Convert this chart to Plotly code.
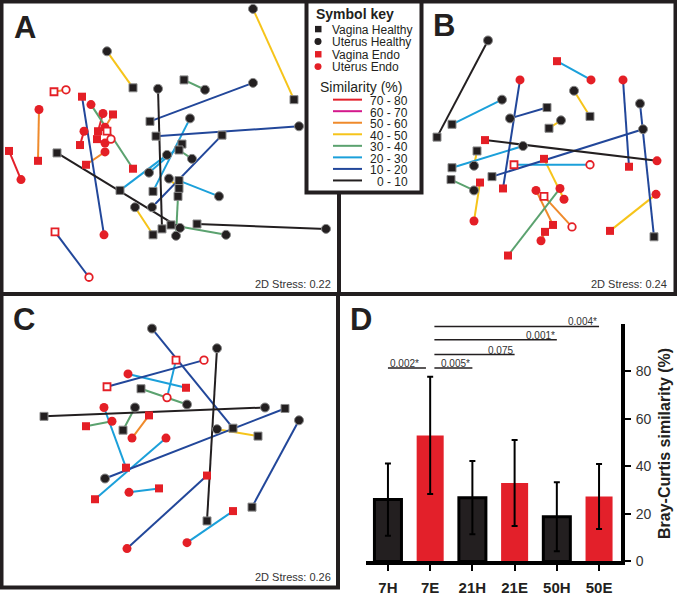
import plotly.graph_objects as go

W, H = 677, 599
FONT = "Liberation Sans, Arial, sans-serif"

# ---------------- data ----------------
SIM_BINS = [70, 60, 50, 40, 30, 20, 10, 0]
SIM_LABELS = ["70 - 80", "60 - 70", "50 - 60", "40 - 50", "30 - 40", "20 - 30", "10 - 20", "0 - 10"]
SIM_COLORS = {70: "#e3202a", 60: "#d4198c", 50: "#ef8a2b", 40: "#f6c41a",
              30: "#5ba26f", 20: "#1ba0da", 10: "#22479a", 0: "#231f20"}
SYMBOL_KEY = ["Vagina Healthy", "Uterus Healthy", "Vagina Endo", "Uterus Endo"]
SYMBOL_TYPES = ["VH", "UH", "VE", "UE"]

# (similarity bin, type 1, x1, y1, type 2, x2, y2) ; NMDS coordinates
A_PAIRS = [
    (40, "UH", 253, 9, "VH", 294, 101),
    (40, "UH", 107, 52, "VH", 133, 89),
    (30, "VH", 184, 81, "UH", 205, 91),
    (10, "UH", 253, 84, "VH", 150, 123),
    (0, "UH", 158, 90, "VH", 162, 232),
    (20, "UH", 190, 120, "VH", 153, 194),
    (10, "UH", 299, 128, "VH", 156, 138),
    (10, "VH", 222, 137, "UH", 152, 210),
    (20, "VH", 120, 193, "UH", 167, 157),
    (20, "UH", 149, 175, "VH", 182, 146),
    (30, "VH", 179, 152, "UH", 192, 161),
    (40, "UH", 169, 181, "VH", 179, 191),
    (20, "VH", 179, 183, "UH", 219, 199),
    (30, "VH", 178, 199, "UH", 176, 239),
    (30, "VH", 171, 228, "UH", 226, 238),
    (0, "VH", 57, 155, "UH", 180, 231),
    (0, "VH", 197, 227, "UH", 326, 232),
    (40, "UH", 135, 210, "VH", 153, 238),
    (10, "VE", 82, 98, "UE", 104, 238),
    (10, "VEo", 55, 235, "UEo", 89, 281),
    (50, "UE", 39, 111, "VE", 38, 163),
    (70, "VE", 9, 153, "UE", 21, 182),
    (50, "VEo", 54, 93, "UEo", 66, 91),
    (30, "UE", 91, 106, "VE", 133, 171),
    (50, "UE", 105, 154, "VE", 86, 167),
    (70, "UE", 103, 115, "VE", 98, 133),
    (50, "VE", 113, 116, "UE", 105, 129),
    (70, "UE", 84, 133, "VE", 80, 147),
    (60, "VE", 97, 141, "UE", 105, 145),
    (70, "VEo", 107, 133, "UEo", 111, 141),
]
B_PAIRS = [
    (0, "VH", 437, 139, "UH", 488, 41),
    (20, "VH", 452, 126, "UH", 502, 101),
    (10, "UH", 510, 120, "VH", 547, 109),
    (40, "VH", 549, 130, "UH", 561, 122),
    (20, "VE", 557, 62, "UE", 591, 81),
    (40, "UH", 574, 92, "VH", 590, 118),
    (10, "UE", 520, 81, "VE", 503, 191),
    (10, "UE", 623, 81, "VE", 629, 169),
    (10, "UH", 640, 105, "VH", 654, 240),
    (0, "VE", 485, 142, "UE", 657, 163),
    (40, "VH", 477, 153, "UH", 474, 168),
    (20, "VH", 452, 170, "UH", 523, 148),
    (10, "UH", 643, 131, "VH", 492, 179),
    (20, "VEo", 514, 167, "UEo", 590, 167),
    (30, "VH", 451, 182, "UH", 474, 193),
    (40, "VE", 480, 185, "UE", 474, 224),
    (40, "VE", 544, 161, "UE", 564, 202),
    (30, "UE", 560, 191, "VE", 508, 259),
    (50, "UE", 536, 193, "VE", 553, 228),
    (50, "VEo", 544, 199, "UEo", 572, 230),
    (50, "UE", 541, 244, "VE", 545, 235),
    (40, "VE", 610, 234, "UE", 656, 197),
]
C_PAIRS = [
    (10, "UH", 152, 333, "VH", 233, 434),
    (10, "VEo", 107, 392, "UEo", 204, 365),
    (20, "VEo", 176, 365, "UEo", 167, 403),
    (20, "UE", 128, 379, "VE", 186, 393),
    (30, "VH", 141, 394, "UH", 187, 410),
    (0, "UH", 217, 353, "VH", 207, 528),
    (0, "VH", 44, 422, "UH", 265, 413),
    (20, "UE", 104, 413, "VE", 126, 474),
    (30, "VE", 86, 432, "UE", 112, 427),
    (30, "UH", 135, 413, "VH", 123, 436),
    (50, "VE", 149, 421, "UE", 132, 444),
    (10, "UH", 105, 485, "VH", 285, 414),
    (20, "VE", 95, 506, "UE", 166, 444),
    (40, "UH", 217, 435, "VH", 258, 442),
    (10, "UH", 299, 426, "VH", 252, 514),
    (20, "UE", 129, 499, "VE", 159, 495),
    (10, "VE", 207, 482, "UE", 127, 556),
    (20, "VE", 233, 518, "UE", 187, 550),
]
STRESS = ["2D Stress: 0.22", "2D Stress: 0.24", "2D Stress: 0.26"]

D_CATS = ["7H", "7E", "21H", "21E", "50H", "50E"]
D_MEANS = [26.0, 53.0, 26.8, 33.0, 18.8, 27.3]
D_SD = [15.2, 24.7, 15.4, 18.1, 14.5, 13.7]
SIG_X0 = [0.0, 1.1, 1.1, 1.1, 1.1]
SIG_X1 = [0.9, 2.0, 3.0, 4.0, 5.0]
SIG_Y = [81.3, 81.3, 87.0, 93.2, 98.8]
SIG_P = ["0.002*", "0.005*", "0.075", "0.001*", "0.004*"]

# ---------------- styles ----------------
DARK = "#231f20"
RED = "#e41f26"
MARKER_STYLE = {
    "VH": dict(symbol="square", size=8, color=DARK, line=dict(color="#8a8a8a", width=1)),
    "UH": dict(symbol="circle", size=9, color=DARK, line=dict(color="#8a8a8a", width=1)),
    "VE": dict(symbol="square", size=8, color=RED, line=dict(width=0)),
    "UE": dict(symbol="circle", size=9, color=RED, line=dict(width=0)),
    "VEo": dict(symbol="square", size=7, color="white", line=dict(color=RED, width=1.8)),
    "UEo": dict(symbol="circle", size=7.5, color="white", line=dict(color=RED, width=1.8)),
}


def px(x):
    return x / W


def py(y):
    return 1 - y / H


fig = go.Figure()


def add_panel(pairs, xa, ya):
    for b in SIM_BINS:
        xs, ys = [], []
        for (s, t1, x1, y1, t2, x2, y2) in pairs:
            if s == b:
                xs += [x1, x2, None]
                ys += [y1, y2, None]
        if xs:
            fig.add_trace(go.Scatter(x=xs, y=ys, mode="lines",
                                     line=dict(color=SIM_COLORS[b], width=2),
                                     xaxis=xa, yaxis=ya, hoverinfo="skip", showlegend=False))
    for t, st in MARKER_STYLE.items():
        xs, ys = [], []
        for (s, t1, x1, y1, t2, x2, y2) in pairs:
            if t1 == t:
                xs.append(x1); ys.append(y1)
            if t2 == t:
                xs.append(x2); ys.append(y2)
        if xs:
            fig.add_trace(go.Scatter(x=xs, y=ys, mode="markers", marker=st, cliponaxis=False,
                                     xaxis=xa, yaxis=ya, hoverinfo="skip", showlegend=False))


add_panel(A_PAIRS, "x", "y")
add_panel(B_PAIRS, "x2", "y2")
add_panel(C_PAIRS, "x3", "y3")

# Panel D bars
bar_colors = [DARK if c.endswith("H") else "#e3202a" for c in D_CATS]
bar_lw = [3 if c.endswith("H") else 0 for c in D_CATS]
fig.add_trace(go.Bar(x=D_CATS, y=D_MEANS, width=0.64,
                     marker=dict(color=bar_colors, line=dict(color="black", width=bar_lw)),
                     error_y=dict(type="data", array=D_SD, color="black", thickness=2, width=3),
                     xaxis="x4", yaxis="y4", hoverinfo="skip", showlegend=False))

hidden = dict(visible=False, showgrid=False, zeroline=False)
fig.update_layout(
    width=W, height=H, margin=dict(l=0, r=0, t=0, b=0),
    paper_bgcolor="white", plot_bgcolor="white", showlegend=False,
    font=dict(family=FONT, color="#231f20"),
    xaxis=dict(domain=[0, px(340)], range=[0, 340], anchor="y", **hidden),
    yaxis=dict(domain=[py(299), 1], range=[299, 0], anchor="x", **hidden),
    xaxis2=dict(domain=[px(340), 1], range=[340, 677], anchor="y2", **hidden),
    yaxis2=dict(domain=[py(299), 1], range=[299, 0], anchor="x2", **hidden),
    xaxis3=dict(domain=[0, px(340)], range=[0, 340], anchor="y3", **hidden),
    yaxis3=dict(domain=[0, py(299)], range=[599, 299], anchor="x3", **hidden),
    xaxis4=dict(domain=[px(366), px(621)], range=[-0.52, 5.52], anchor="y4", type="category",
                showline=True, linewidth=4, linecolor="black", ticks="outside", ticklen=6,
                tickwidth=2, tickcolor="black", showgrid=False, zeroline=False, ticklabelstandoff=4,
                tickfont=dict(size=15, family=FONT, weight="bold", color="#231f20")),
    yaxis4=dict(domain=[py(569), py(328)], range=[0, 100], anchor="x4", side="right",
                showline=True, linewidth=4, linecolor="black", ticks="outside", ticklen=6,
                tickwidth=2, tickcolor="black", showgrid=False, zeroline=False, ticklabelstandoff=2,
                tickvals=[0, 20, 40, 60, 80], tickfont=dict(size=14, family=FONT, color="#333")),
)

shapes = []
annotations = []
BORDER = dict(color=DARK, width=4)
for (x0, y0, x1, y1) in [(1.5, 1.5, 339, 298), (339, 1.5, 675.5, 298), (1.5, 298, 338, 595.5)]:
    shapes.append(dict(type="rect", xref="paper", yref="paper", x0=px(x0), y0=py(y0), x1=px(x1), y1=py(y1),
                       line=BORDER, fillcolor="rgba(0,0,0,0)", layer="above"))

# legend box
shapes.append(dict(type="rect", xref="paper", yref="paper", x0=px(306.5), y0=py(1.5), x1=px(421.5), y1=py(195),
                   line=BORDER, fillcolor="white", layer="above"))
annotations.append(dict(xref="paper", yref="paper", x=px(315), y=py(14), text="<b>Symbol key</b>",
                        showarrow=False, xanchor="left", yanchor="middle", borderpad=0,
                        font=dict(size=14, family=FONT, color=DARK)))
key_y = [29.5, 42, 55, 67.5]
for i, (lab, t) in enumerate(zip(SYMBOL_KEY, SYMBOL_TYPES)):
    col = DARK if t.endswith("H") else RED
    yc = key_y[i]
    if t.startswith("V"):
        shapes.append(dict(type="rect", xref="paper", yref="paper", x0=px(315), x1=px(321.5),
                           y0=py(yc - 3.25), y1=py(yc + 3.25), line=dict(width=0), fillcolor=col, layer="above"))
    else:
        shapes.append(dict(type="circle", xref="paper", yref="paper", x0=px(314.5), x1=px(321.5),
                           y0=py(yc - 3.5), y1=py(yc + 3.5), line=dict(width=0), fillcolor=col, layer="above"))
    annotations.append(dict(xref="paper", yref="paper", x=px(331), y=py(yc + 0.5), text=lab, showarrow=False,
                            xanchor="left", yanchor="middle", borderpad=0,
                            font=dict(size=12, family=FONT, color=DARK)))
annotations.append(dict(xref="paper", yref="paper", x=px(319), y=py(88), text="Similarity (%)", showarrow=False,
                        xanchor="left", yanchor="middle", borderpad=0,
                        font=dict(size=14, family=FONT, color=DARK)))
for i, b in enumerate(SIM_BINS):
    yc = 101 + i * 11.7
    shapes.append(dict(type="line", xref="paper", yref="paper", x0=px(333), x1=px(362), y0=py(yc), y1=py(yc),
                       line=dict(color=SIM_COLORS[b], width=2), layer="above"))
    annotations.append(dict(xref="paper", yref="paper", x=px(409), y=py(yc + 1.5), text=SIM_LABELS[i],
                            showarrow=False, xanchor="right", yanchor="middle", borderpad=0,
                            font=dict(size=12, family=FONT, color=DARK)))

# panel letters
for lab, x, y in [("A", 25, 28), ("B", 444, 26), ("C", 24, 324), ("D", 361, 324)]:
    annotations.append(dict(xref="paper", yref="paper", x=px(x), y=py(y), text="<b>%s</b>" % lab,
                            showarrow=False, xanchor="center", yanchor="middle",
                            font=dict(size=31, family=FONT, color=DARK)))
# stress
for txt, x, y in zip(STRESS, [333, 669, 333], [288, 288, 585]):
    annotations.append(dict(xref="paper", yref="paper", x=px(x), y=py(y), text=txt, showarrow=False,
                            xanchor="right", yanchor="middle", font=dict(size=11, family=FONT, color="#333")))

# significance bars
for i in range(len(SIG_P)):
    shapes.append(dict(type="line", xref="x4", yref="y4", x0=SIG_X0[i], x1=SIG_X1[i], y0=SIG_Y[i], y1=SIG_Y[i],
                       line=dict(color=DARK, width=1.5)))
    left = i == 0
    annotations.append(dict(xref="x4", yref="y4", x=SIG_X0[i] if left else SIG_X1[i], y=SIG_Y[i],
                            text=SIG_P[i], showarrow=False, xanchor="left" if left else "right",
                            yanchor="bottom", yshift=-3, font=dict(size=10, family=FONT, color="#333")))

annotations.append(dict(xref="paper", yref="paper", x=px(665), y=py(450), text="<b>Bray-Curtis similarity (%)</b>",
                        showarrow=False, textangle=-90, xanchor="center", yanchor="middle",
                        font=dict(size=16, family=FONT, color=DARK)))

fig.update_layout(shapes=shapes, annotations=annotations)
fig.write_html("out.html", config={"displayModeBar": False},
               post_script="document.body.style.margin='0';document.body.style.overflow='hidden';")
